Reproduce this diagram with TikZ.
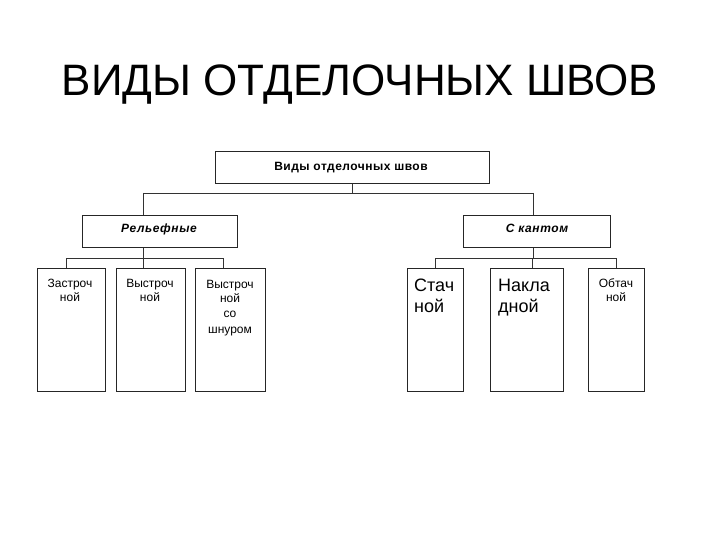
\documentclass[tikz,border=0pt]{standalone}
\usepackage{fontspec}
\setmainfont{Liberation Sans}
\begin{document}
\begin{tikzpicture}[x=1pt,y=-1pt,
  box/.style={draw=black!85, line width=0.8pt, fill=white, inner sep=0pt, anchor=north west},
  conn/.style={draw=black!80, line width=0.8pt},
  small/.style={font=\fontsize{12}{14}\selectfont, align=center, inner sep=0pt, anchor=base},
  big/.style={font=\fontsize{18}{20.5}\selectfont, align=left, inner sep=0pt, anchor=base west},
  head/.style={font=\fontsize{12}{13}\bfseries\addfontfeatures{LetterSpace=4}\selectfont, inner sep=0pt, anchor=base},
  headi/.style={font=\fontsize{12}{13}\bfseries\itshape\addfontfeatures{LetterSpace=5}\selectfont, inner sep=0pt, anchor=base}
]
\useasboundingbox (0,0) rectangle (720,540);
\fill[white] (0,0) rectangle (720,540);

% title
\node[font=\fontsize{44}{50}\selectfont, inner sep=0pt, anchor=base] (title) at (360,96) {ВИДЫ ОТДЕЛОЧНЫХ ШВОВ};

% boxes
\node[box, minimum width=274pt, minimum height=32pt] (top) at (215,151) {};
\node[box, minimum width=155pt, minimum height=32pt] (rel) at (82,215) {};
\node[box, minimum width=147pt, minimum height=32pt] (kant) at (463,215) {};
\node[box, minimum width=68pt, minimum height=123pt] (c1) at (37,268) {};
\node[box, minimum width=69pt, minimum height=123pt] (c2) at (116,268) {};
\node[box, minimum width=70pt, minimum height=123pt] (c3) at (195,268) {};
\node[box, minimum width=56pt, minimum height=123pt] (c4) at (407,268) {};
\node[box, minimum width=73pt, minimum height=123pt] (c5) at (490,268) {};
\node[box, minimum width=56pt, minimum height=123pt] (c6) at (588,268) {};

% texts (anchor = baseline of the last line)
\node[head] (ttop) at (351,171) {Виды отделочных швов};
\node[headi] (trel) at (159,233) {Рельефные};
\node[headi] (tkant) at (537,233) {С кантом};
\node[small] (t1) at (70,301) {Застроч\\ной};
\node[small] (t2) at (150,301) {Выстроч\\ной};
\node[small] (t3) at (230,333) {Выстроч\\ной\\[1.5pt]со\\[1.5pt]шнуром};
\node[big] (t4) at (414,312) {Стач\\ной};
\node[big] (t5) at (498,312) {Накла\\дной};
\node[small] (t6) at (616,301) {Обтач\\ной};

% connector coordinates
\coordinate (j0) at (352,193);
\coordinate (jl) at (143,193);
\coordinate (jr) at (533,193);
\coordinate (k0) at (143,258);
\coordinate (k1) at (66,258);
\coordinate (k3) at (223,258);
\coordinate (m0) at (533,258);
\coordinate (m1) at (435,258);
\coordinate (m2) at (532,258);
\coordinate (m3) at (616,258);

\draw[conn] (top.south -| j0) -- (j0);
\draw[conn] (jl) -- (jr);
\draw[conn] (jl) -- (jl |- rel.north);
\draw[conn] (jr) -- (jr |- kant.north);
\draw[conn] (rel.south -| k0) -- (k0);
\draw[conn] (k1) -- (k3);
\draw[conn] (k1) -- (k1 |- c1.north);
\draw[conn] (k0) -- (k0 |- c2.north);
\draw[conn] (k3) -- (k3 |- c3.north);
\draw[conn] (kant.south -| m0) -- (m0);
\draw[conn] (m1) -- (m3);
\draw[conn] (m1) -- (m1 |- c4.north);
\draw[conn] (m2) -- (m2 |- c5.north);
\draw[conn] (m3) -- (m3 |- c6.north);
\end{tikzpicture}
\end{document}
